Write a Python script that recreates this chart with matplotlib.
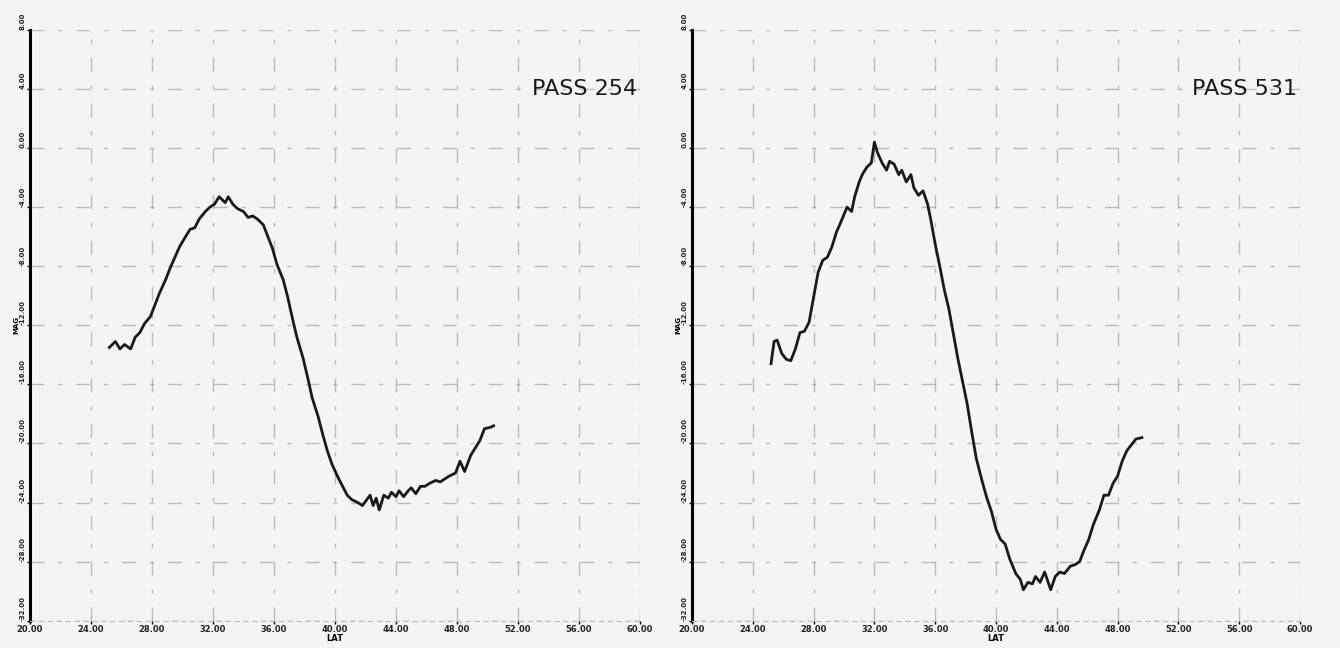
import numpy as np
import matplotlib
matplotlib.use("Agg")
import matplotlib.pyplot as plt

# latitude ticks and magnitude ticks (shared by both passes)
lat_ticks = [20, 24, 28, 32, 36, 40, 44, 48, 52, 56, 60]
mag_ticks = [8, 4, 0, -4, -8, -12, -16, -20, -24, -28, -32]

# PASS 254
lat_254 = [25.2, 25.6, 25.9, 26.2, 26.6, 26.9, 27.2, 27.5, 27.9, 28.2, 28.5, 28.9, 29.2,
           29.5, 29.8, 30.2, 30.5, 30.8, 31.1, 31.5, 31.8, 32.1, 32.4, 32.8, 33.0, 33.3,
           33.6, 34.0, 34.3, 34.6, 34.9, 35.3, 35.6, 35.9, 36.2, 36.6, 36.9, 37.2, 37.5,
           37.9, 38.2, 38.5, 38.9, 39.2, 39.5, 39.8, 40.2, 40.5, 40.8, 41.1, 41.5, 41.8,
           42.3, 42.5, 42.7, 42.9, 43.2, 43.5, 43.7, 44.0, 44.2, 44.5, 44.8, 45.0, 45.3,
           45.6, 45.9, 46.2, 46.6, 46.9, 47.2, 47.5, 47.9, 48.2, 48.5, 48.9, 49.2,
           49.5, 49.8, 50.2, 50.4]
mag_254 = [-13.5, -13.1, -13.6, -13.3, -13.6, -12.8, -12.5, -11.9, -11.4, -10.6, -9.8,
           -8.9, -8.1, -7.4, -6.7, -6.0, -5.5, -5.4, -4.8, -4.3, -4.0, -3.8, -3.3, -3.7,
           -3.3, -3.8, -4.1, -4.3, -4.7, -4.6, -4.8, -5.2, -6.0, -6.8, -7.9, -8.9, -10.1,
           -11.5, -12.8, -14.2, -15.5, -16.9, -18.2, -19.4, -20.5, -21.4, -22.3, -22.9,
           -23.5, -23.8, -24.0, -24.2, -23.5, -24.2, -23.7, -24.5, -23.5, -23.7, -23.3,
           -23.6, -23.2, -23.6, -23.2, -23.0, -23.4, -22.9, -22.9, -22.7, -22.5, -22.6,
           -22.4, -22.2, -22.0, -21.2, -21.9, -20.8, -20.3, -19.8, -19.0, -18.9, -18.8]

# PASS 531
lat_531 = [25.2, 25.4, 25.6, 25.9, 26.2, 26.5, 26.8, 27.1, 27.4, 27.7, 28.0, 28.3, 28.6,
           28.9, 29.2, 29.5, 29.8, 30.2, 30.5, 30.7, 31.0, 31.2, 31.5, 31.8, 32.0, 32.2,
           32.5, 32.8, 33.0, 33.3, 33.6, 33.8, 34.1, 34.4, 34.6, 34.9, 35.2, 35.5, 35.7,
           36.0, 36.3, 36.6, 36.9, 37.2, 37.5, 37.8, 38.1, 38.4, 38.7, 39.1, 39.4, 39.7,
           40.0, 40.3, 40.6, 40.9, 41.3, 41.6, 41.8, 42.1, 42.4, 42.6, 42.9, 43.2, 43.6,
           43.9, 44.2, 44.5, 44.9, 45.2, 45.5, 45.8, 46.1, 46.4, 46.8, 47.1, 47.4, 47.7,
           48.0, 48.3, 48.6, 48.9, 49.2, 49.6]
mag_531 = [-14.6, -13.1, -13.0, -13.9, -14.3, -14.4, -13.6, -12.5, -12.4, -11.8, -10.1,
           -8.4, -7.6, -7.4, -6.7, -5.7, -5.0, -4.0, -4.3, -3.3, -2.3, -1.8, -1.3, -1.0,
           0.4, -0.3, -1.0, -1.5, -0.9, -1.1, -1.8, -1.5, -2.3, -1.8, -2.7, -3.2, -2.9,
           -3.8, -4.8, -6.5, -8.0, -9.6, -10.9, -12.6, -14.3, -15.8, -17.3, -19.2, -21.0,
           -22.6, -23.7, -24.6, -25.8, -26.5, -26.8, -27.8, -28.8, -29.2, -29.9, -29.4,
           -29.5, -29.0, -29.4, -28.7, -29.9, -29.0, -28.7, -28.8, -28.3, -28.2, -28.0,
           -27.2, -26.5, -25.5, -24.5, -23.5, -23.5, -22.7, -22.2, -21.2, -20.5, -20.1,
           -19.7, -19.6]

fig = plt.figure(figsize=(13.4, 6.48), dpi=100)
fig.patch.set_facecolor("#f4f4f4")

panels = [
    ([30 / 1340, 0.042, 610 / 1340, 0.912], lat_254, mag_254, "PASS 254"),
    ([692 / 1340, 0.042, 608 / 1340, 0.912], lat_531, mag_531, "PASS 531"),
]

for rect, lat, mag, title in panels:
    ax = fig.add_axes(rect)
    ax.set_facecolor("#f4f4f4")
    ax.plot(lat, mag, color="#1a1a1a", linewidth=2.0)
    ax.set_xlim(20, 60)
    ax.set_ylim(-32, 8)
    ax.set_xticks(lat_ticks)
    ax.set_yticks(mag_ticks)
    ax.set_xticklabels([f"{v:.2f}" for v in lat_ticks], fontsize=6, fontweight="bold",
                       color="#222222")
    ax.set_yticklabels([f"{v:.2f}" for v in mag_ticks], fontsize=5, fontweight="bold",
                       rotation=90, va="bottom", color="#222222")
    ax.tick_params(axis="both", length=2, pad=1, width=1)
    ax.grid(True, color="#666666", linewidth=1.0, alpha=0.4,
            linestyle=(0, (10, 10, 3, 10)))
    for s in ["top", "right"]:
        ax.spines[s].set_visible(False)
    ax.spines["left"].set_linewidth(2.2)
    ax.spines["bottom"].set_linewidth(0.8)
    ax.spines["bottom"].set_linestyle((0, (4, 4)))
    ax.spines["bottom"].set_color("#bbbbbb")
    ax.set_xlabel("LAT", fontsize=6, fontweight="bold", labelpad=0)
    ax.set_ylabel("MAG", fontsize=5, fontweight="bold", labelpad=0)
    ax.text(0.995, 0.9, title, transform=ax.transAxes, ha="right", va="center",
            fontsize=16, color="#1a1a1a")

plt.savefig("out.png", dpi=100, facecolor=fig.get_facecolor())
plt.close()
